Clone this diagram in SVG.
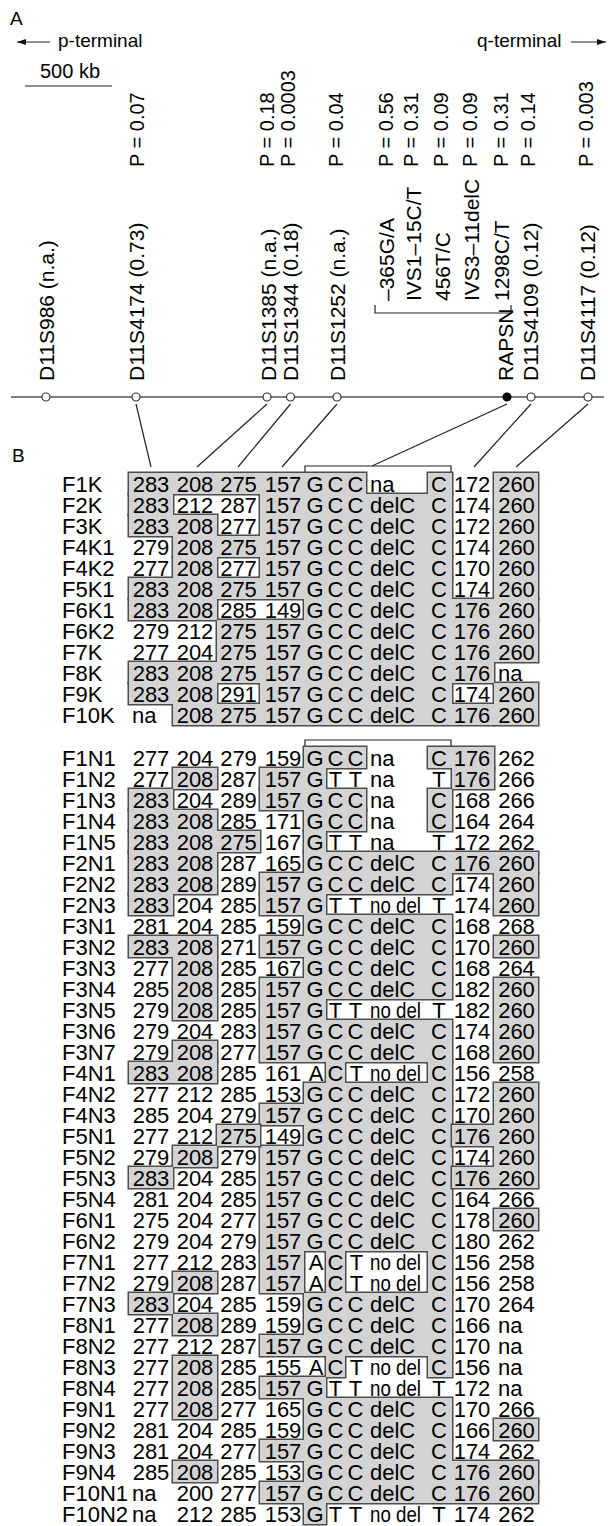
<svg xmlns="http://www.w3.org/2000/svg" xmlns:xlink="http://www.w3.org/1999/xlink" width="608" height="1526" viewBox="0 0 608 1526">
<style>
.f{font-family:"Liberation Sans",Arial,sans-serif;fill:#000}
.t{font-size:22px}
.m{text-anchor:middle}
.r{font-size:21px}
.p{font-size:20px}
.h{font-size:19px}
.ln{stroke:#222;stroke-width:1.2;fill:none}
.chr{stroke:#555;stroke-width:1.6;fill:none}
.dot{fill:#fff;stroke:#333;stroke-width:1.2}
.rs{fill:none;stroke:#4d4d4d;stroke-width:3}
.rf{fill:#d3d3d3;stroke:none}
</style>
<defs>
<marker id="ah" markerWidth="10" markerHeight="6" refX="9" refY="3" orient="auto" markerUnits="userSpaceOnUse"><path d="M0,0 L9,3 L0,6 z" fill="#111"/></marker>
<g id="shK">
<rect x="129" y="473" width="237" height="21"/><rect x="428" y="473" width="24" height="21"/><rect x="494" y="473" width="44" height="126"/>
<rect x="129" y="494" width="44" height="21"/><rect x="260" y="494" width="192" height="42"/><rect x="129" y="515" width="88" height="21"/>
<rect x="173" y="536" width="279" height="21"/><rect x="173" y="557" width="44" height="21"/><rect x="260" y="557" width="192" height="21"/>
<rect x="129" y="578" width="323" height="21"/><rect x="129" y="599" width="88" height="21"/><rect x="304" y="599" width="234" height="21"/>
<rect x="217" y="620" width="321" height="42"/><rect x="129" y="662" width="365" height="21"/><rect x="129" y="683" width="88" height="21"/>
<rect x="260" y="683" width="192" height="21"/><rect x="494" y="683" width="44" height="42"/><rect x="173" y="704" width="321" height="21"/>
</g>
<g id="shM">
<rect x="304" y="747" width="62" height="21"/><rect x="260" y="768" width="66" height="21"/><rect x="260" y="789" width="106" height="21"/>
<rect x="304" y="810" width="62" height="21"/><rect x="304" y="831" width="22" height="21"/><rect x="304" y="852" width="234" height="21"/>
<rect x="260" y="873" width="192" height="21"/><rect x="494" y="873" width="44" height="42"/><rect x="260" y="894" width="66" height="21"/>
<rect x="304" y="915" width="148" height="21"/><rect x="260" y="936" width="192" height="21"/><rect x="304" y="957" width="148" height="21"/>
<rect x="260" y="978" width="192" height="21"/><rect x="260" y="999" width="66" height="21"/><rect x="260" y="1020" width="192" height="42"/>
<rect x="326" y="1062" width="19" height="21"/><rect x="428" y="1062" width="24" height="21"/><rect x="304" y="1083" width="148" height="21"/>
<rect x="260" y="1104" width="192" height="21"/><rect x="304" y="1125" width="148" height="21"/><rect x="260" y="1146" width="192" height="105"/>
<rect x="260" y="1251" width="44" height="42"/><rect x="326" y="1251" width="19" height="42"/><rect x="428" y="1251" width="24" height="42"/>
<rect x="304" y="1293" width="148" height="42"/><rect x="260" y="1335" width="192" height="21"/><rect x="326" y="1356" width="19" height="21"/>
<rect x="428" y="1356" width="24" height="21"/><rect x="260" y="1377" width="66" height="21"/><rect x="304" y="1398" width="148" height="42"/>
<rect x="260" y="1440" width="192" height="21"/><rect x="304" y="1461" width="234" height="21"/><rect x="260" y="1482" width="278" height="21"/>
<rect x="304" y="1503" width="22" height="21"/>
</g>
<g id="shS">
<rect x="428" y="747" width="66" height="21"/><rect x="452" y="768" width="42" height="21"/>
<rect x="173" y="768" width="44" height="21"/>
<rect x="129" y="789" width="44" height="21"/><rect x="129" y="810" width="88" height="21"/><rect x="129" y="831" width="131" height="21"/><rect x="129" y="852" width="88" height="42"/><rect x="129" y="894" width="44" height="21"/>
<rect x="428" y="789" width="24" height="42"/>
<rect x="129" y="936" width="88" height="21"/><rect x="173" y="957" width="44" height="63"/>
<rect x="494" y="936" width="44" height="21"/>
<rect x="494" y="978" width="44" height="84"/>
<rect x="173" y="1041" width="44" height="21"/><rect x="129" y="1062" width="88" height="21"/>
<rect x="217" y="1125" width="43" height="21"/>
<rect x="173" y="1146" width="44" height="21"/>
<rect x="129" y="1167" width="44" height="21"/>
<rect x="494" y="1209" width="44" height="21"/>
<rect x="173" y="1272" width="44" height="21"/>
<rect x="129" y="1293" width="44" height="21"/>
<rect x="173" y="1314" width="44" height="21"/>
<rect x="173" y="1356" width="44" height="63"/>
<rect x="494" y="1419" width="44" height="21"/>
<rect x="173" y="1461" width="44" height="21"/>
</g>
<g id="shR9">
<rect x="494" y="1083" width="44" height="105"/><rect x="452" y="1125" width="42" height="21"/><rect x="452" y="1167" width="42" height="21"/>
</g>
</defs>
<rect width="608" height="1526" fill="#fff"/>

<g id="header">
<text class="f h" x="10" y="25">A</text>
<path class="ln" d="M50,42 H17" marker-end="url(#ah)"/>
<text class="f h" x="58" y="47">p-terminal</text>
<text class="f h" x="477" y="47">q-terminal</text>
<path class="ln" d="M571,42 H606" marker-end="url(#ah)"/>
<text class="f p" x="40" y="78">500 kb</text>
<path class="ln" d="M25,86 H112" stroke-width="1.5"/>
<text class="f h" x="12" y="462">B</text>
</g>

<g id="chromosome">
<path class="chr" d="M11,397 H604"/>
</g>

<g id="connectors">
<path class="ln" d="M136,404 L151,467"/>
<path class="ln" d="M267,404 L197,467"/>
<path class="ln" d="M290.5,404 L238,467"/>
<path class="ln" d="M337,404 L282,467"/>
<path class="ln" d="M507,404 L372,466"/>
<path class="ln" d="M531,404 L474,467"/>
<path class="ln" d="M588,404 L516,467"/>
<path class="ln" d="M305,473 V466 H451 V473"/>
<path class="ln" d="M305,747 V740 H451 V747"/>
</g>

<g id="m-D11S986"><circle class="dot" cx="46" cy="397" r="4"/><text class="f r" transform="translate(53.5,381) rotate(-90)">D11S986 (n.a.)</text></g>
<g id="m-D11S4174"><circle class="dot" cx="136" cy="397" r="4"/><text class="f r" transform="translate(143.5,381) rotate(-90)">D11S4174 (0.73)</text><text class="f p" transform="translate(143.7,167) rotate(-90)">P = 0.07</text></g>
<g id="m-D11S1385"><circle class="dot" cx="267" cy="397" r="4"/><text class="f r" transform="translate(275.5,381) rotate(-90)">D11S1385 (n.a.)</text><text class="f p" transform="translate(274,167) rotate(-90)">P = 0.18</text></g>
<g id="m-D11S1344"><circle class="dot" cx="290.5" cy="397" r="4"/><text class="f r" transform="translate(298,381) rotate(-90)">D11S1344 (0.18)</text><text class="f p" transform="translate(294.7,167) rotate(-90)">P = 0.0003</text></g>
<g id="m-D11S1252"><circle class="dot" cx="337" cy="397" r="4"/><text class="f r" transform="translate(344.5,381) rotate(-90)">D11S1252 (n.a.)</text><text class="f p" transform="translate(343.2,167) rotate(-90)">P = 0.04</text></g>
<g id="m-RAPSN">
<circle cx="507" cy="397" r="4.5" fill="#000"/>
<text class="f r" transform="translate(512.5,381) rotate(-90)">RAPSN</text>
<path class="ln" d="M375,305 V313 H511 V305"/>
<text class="f r" transform="translate(394,301) rotate(-90)">–365G/A</text>
<text class="f r" transform="translate(421,301) rotate(-90)">IVS1–15C/T</text>
<text class="f r" transform="translate(450,301) rotate(-90)">456T/C</text>
<text class="f r" transform="translate(478.5,301) rotate(-90)">IVS3–11delC</text>
<text class="f r" transform="translate(509,301) rotate(-90)">1298C/T</text>
<text class="f p" transform="translate(393,167) rotate(-90)">P = 0.56</text>
<text class="f p" transform="translate(418,167) rotate(-90)">P = 0.31</text>
<text class="f p" transform="translate(448,167) rotate(-90)">P = 0.09</text>
<text class="f p" transform="translate(477,167) rotate(-90)">P = 0.09</text>
<text class="f p" transform="translate(508,167) rotate(-90)">P = 0.31</text>
</g>
<g id="m-D11S4109"><circle class="dot" cx="531" cy="397" r="4"/><text class="f r" transform="translate(538,381) rotate(-90)">D11S4109 (0.12)</text><text class="f p" transform="translate(535,167) rotate(-90)">P = 0.14</text></g>
<g id="m-D11S4117"><circle class="dot" cx="588" cy="397" r="4"/><text class="f r" transform="translate(594.5,381) rotate(-90)">D11S4117 (0.12)</text><text class="f p" transform="translate(593,167) rotate(-90)">P = 0.003</text></g>

<g id="shading">
<use xlink:href="#shK" href="#shK" class="rs"/><use xlink:href="#shK" href="#shK" class="rf"/>
<use xlink:href="#shM" href="#shM" class="rs"/><use xlink:href="#shM" href="#shM" class="rf"/>
<use xlink:href="#shS" href="#shS" class="rs"/><use xlink:href="#shS" href="#shS" class="rf"/>
<use xlink:href="#shR9" href="#shR9" class="rs"/><use xlink:href="#shR9" href="#shR9" class="rf"/>
</g>

<g id="tableK">
<g id="F1K"><text class="f t" y="492"><tspan x="62">F1K</tspan><tspan x="370">na</tspan></text><text class="f t m" y="492"><tspan x="151">283</tspan><tspan x="195">208</tspan><tspan x="238.5">275</tspan><tspan x="283">157</tspan><tspan x="315">G</tspan><tspan x="335.5">C</tspan><tspan x="355.5">C</tspan><tspan x="439">C</tspan><tspan x="472">172</tspan><tspan x="516.5">260</tspan></text></g>
<g id="F2K"><text class="f t" y="513"><tspan x="62">F2K</tspan><tspan x="370">delC</tspan></text><text class="f t m" y="513"><tspan x="151">283</tspan><tspan x="195">212</tspan><tspan x="238.5">287</tspan><tspan x="283">157</tspan><tspan x="315">G</tspan><tspan x="335.5">C</tspan><tspan x="355.5">C</tspan><tspan x="439">C</tspan><tspan x="472">174</tspan><tspan x="516.5">260</tspan></text></g>
<g id="F3K"><text class="f t" y="534"><tspan x="62">F3K</tspan><tspan x="370">delC</tspan></text><text class="f t m" y="534"><tspan x="151">283</tspan><tspan x="195">208</tspan><tspan x="238.5">277</tspan><tspan x="283">157</tspan><tspan x="315">G</tspan><tspan x="335.5">C</tspan><tspan x="355.5">C</tspan><tspan x="439">C</tspan><tspan x="472">172</tspan><tspan x="516.5">260</tspan></text></g>
<g id="F4K1"><text class="f t" y="555"><tspan x="62">F4K1</tspan><tspan x="370">delC</tspan></text><text class="f t m" y="555"><tspan x="151">279</tspan><tspan x="195">208</tspan><tspan x="238.5">275</tspan><tspan x="283">157</tspan><tspan x="315">G</tspan><tspan x="335.5">C</tspan><tspan x="355.5">C</tspan><tspan x="439">C</tspan><tspan x="472">174</tspan><tspan x="516.5">260</tspan></text></g>
<g id="F4K2"><text class="f t" y="576"><tspan x="62">F4K2</tspan><tspan x="370">delC</tspan></text><text class="f t m" y="576"><tspan x="151">277</tspan><tspan x="195">208</tspan><tspan x="238.5">277</tspan><tspan x="283">157</tspan><tspan x="315">G</tspan><tspan x="335.5">C</tspan><tspan x="355.5">C</tspan><tspan x="439">C</tspan><tspan x="472">170</tspan><tspan x="516.5">260</tspan></text></g>
<g id="F5K1"><text class="f t" y="597"><tspan x="62">F5K1</tspan><tspan x="370">delC</tspan></text><text class="f t m" y="597"><tspan x="151">283</tspan><tspan x="195">208</tspan><tspan x="238.5">275</tspan><tspan x="283">157</tspan><tspan x="315">G</tspan><tspan x="335.5">C</tspan><tspan x="355.5">C</tspan><tspan x="439">C</tspan><tspan x="472">174</tspan><tspan x="516.5">260</tspan></text></g>
<g id="F6K1"><text class="f t" y="618"><tspan x="62">F6K1</tspan><tspan x="370">delC</tspan></text><text class="f t m" y="618"><tspan x="151">283</tspan><tspan x="195">208</tspan><tspan x="238.5">285</tspan><tspan x="283">149</tspan><tspan x="315">G</tspan><tspan x="335.5">C</tspan><tspan x="355.5">C</tspan><tspan x="439">C</tspan><tspan x="472">176</tspan><tspan x="516.5">260</tspan></text></g>
<g id="F6K2"><text class="f t" y="639"><tspan x="62">F6K2</tspan><tspan x="370">delC</tspan></text><text class="f t m" y="639"><tspan x="151">279</tspan><tspan x="195">212</tspan><tspan x="238.5">275</tspan><tspan x="283">157</tspan><tspan x="315">G</tspan><tspan x="335.5">C</tspan><tspan x="355.5">C</tspan><tspan x="439">C</tspan><tspan x="472">176</tspan><tspan x="516.5">260</tspan></text></g>
<g id="F7K"><text class="f t" y="660"><tspan x="62">F7K</tspan><tspan x="370">delC</tspan></text><text class="f t m" y="660"><tspan x="151">277</tspan><tspan x="195">204</tspan><tspan x="238.5">275</tspan><tspan x="283">157</tspan><tspan x="315">G</tspan><tspan x="335.5">C</tspan><tspan x="355.5">C</tspan><tspan x="439">C</tspan><tspan x="472">176</tspan><tspan x="516.5">260</tspan></text></g>
<g id="F8K"><text class="f t" y="681"><tspan x="62">F8K</tspan><tspan x="370">delC</tspan><tspan x="498">na</tspan></text><text class="f t m" y="681"><tspan x="151">283</tspan><tspan x="195">208</tspan><tspan x="238.5">275</tspan><tspan x="283">157</tspan><tspan x="315">G</tspan><tspan x="335.5">C</tspan><tspan x="355.5">C</tspan><tspan x="439">C</tspan><tspan x="472">176</tspan></text></g>
<g id="F9K"><text class="f t" y="702"><tspan x="62">F9K</tspan><tspan x="370">delC</tspan></text><text class="f t m" y="702"><tspan x="151">283</tspan><tspan x="195">208</tspan><tspan x="238.5">291</tspan><tspan x="283">157</tspan><tspan x="315">G</tspan><tspan x="335.5">C</tspan><tspan x="355.5">C</tspan><tspan x="439">C</tspan><tspan x="472">174</tspan><tspan x="516.5">260</tspan></text></g>
<g id="F10K"><text class="f t" y="723"><tspan x="62">F10K</tspan><tspan x="132">na</tspan><tspan x="370">delC</tspan></text><text class="f t m" y="723"><tspan x="195">208</tspan><tspan x="238.5">275</tspan><tspan x="283">157</tspan><tspan x="315">G</tspan><tspan x="335.5">C</tspan><tspan x="355.5">C</tspan><tspan x="439">C</tspan><tspan x="472">176</tspan><tspan x="516.5">260</tspan></text></g>
</g>

<g id="tableN">
<g id="F1N1"><text class="f t" y="766"><tspan x="62">F1N1</tspan><tspan x="370">na</tspan></text><text class="f t m" y="766"><tspan x="151">277</tspan><tspan x="195">204</tspan><tspan x="238.5">279</tspan><tspan x="283">159</tspan><tspan x="315">G</tspan><tspan x="335.5">C</tspan><tspan x="355.5">C</tspan><tspan x="439">C</tspan><tspan x="472">176</tspan><tspan x="516.5">262</tspan></text></g>
<g id="F1N2"><text class="f t" y="787"><tspan x="62">F1N2</tspan><tspan x="370">na</tspan></text><text class="f t m" y="787"><tspan x="151">277</tspan><tspan x="195">208</tspan><tspan x="238.5">287</tspan><tspan x="283">157</tspan><tspan x="315">G</tspan><tspan x="335.5">T</tspan><tspan x="355.5">T</tspan><tspan x="439">T</tspan><tspan x="472">176</tspan><tspan x="516.5">266</tspan></text></g>
<g id="F1N3"><text class="f t" y="808"><tspan x="62">F1N3</tspan><tspan x="370">na</tspan></text><text class="f t m" y="808"><tspan x="151">283</tspan><tspan x="195">204</tspan><tspan x="238.5">289</tspan><tspan x="283">157</tspan><tspan x="315">G</tspan><tspan x="335.5">C</tspan><tspan x="355.5">C</tspan><tspan x="439">C</tspan><tspan x="472">168</tspan><tspan x="516.5">266</tspan></text></g>
<g id="F1N4"><text class="f t" y="829"><tspan x="62">F1N4</tspan><tspan x="370">na</tspan></text><text class="f t m" y="829"><tspan x="151">283</tspan><tspan x="195">208</tspan><tspan x="238.5">285</tspan><tspan x="283">171</tspan><tspan x="315">G</tspan><tspan x="335.5">C</tspan><tspan x="355.5">C</tspan><tspan x="439">C</tspan><tspan x="472">164</tspan><tspan x="516.5">264</tspan></text></g>
<g id="F1N5"><text class="f t" y="850"><tspan x="62">F1N5</tspan><tspan x="370">na</tspan></text><text class="f t m" y="850"><tspan x="151">283</tspan><tspan x="195">208</tspan><tspan x="238.5">275</tspan><tspan x="283">167</tspan><tspan x="315">G</tspan><tspan x="335.5">T</tspan><tspan x="355.5">T</tspan><tspan x="439">T</tspan><tspan x="472">172</tspan><tspan x="516.5">262</tspan></text></g>
<g id="F2N1"><text class="f t" y="871"><tspan x="62">F2N1</tspan><tspan x="370">delC</tspan></text><text class="f t m" y="871"><tspan x="151">283</tspan><tspan x="195">208</tspan><tspan x="238.5">287</tspan><tspan x="283">165</tspan><tspan x="315">G</tspan><tspan x="335.5">C</tspan><tspan x="355.5">C</tspan><tspan x="439">C</tspan><tspan x="472">176</tspan><tspan x="516.5">260</tspan></text></g>
<g id="F2N2"><text class="f t" y="892"><tspan x="62">F2N2</tspan><tspan x="370">delC</tspan></text><text class="f t m" y="892"><tspan x="151">283</tspan><tspan x="195">208</tspan><tspan x="238.5">289</tspan><tspan x="283">157</tspan><tspan x="315">G</tspan><tspan x="335.5">C</tspan><tspan x="355.5">C</tspan><tspan x="439">C</tspan><tspan x="472">174</tspan><tspan x="516.5">260</tspan></text></g>
<g id="F2N3"><text class="f t" y="913"><tspan x="62">F2N3</tspan></text><text class="f t" x="370" y="913" textLength="51" lengthAdjust="spacingAndGlyphs">no del</text><text class="f t m" y="913"><tspan x="151">283</tspan><tspan x="195">204</tspan><tspan x="238.5">285</tspan><tspan x="283">157</tspan><tspan x="315">G</tspan><tspan x="335.5">T</tspan><tspan x="355.5">T</tspan><tspan x="439">T</tspan><tspan x="472">174</tspan><tspan x="516.5">260</tspan></text></g>
<g id="F3N1"><text class="f t" y="934"><tspan x="62">F3N1</tspan><tspan x="370">delC</tspan></text><text class="f t m" y="934"><tspan x="151">281</tspan><tspan x="195">204</tspan><tspan x="238.5">285</tspan><tspan x="283">159</tspan><tspan x="315">G</tspan><tspan x="335.5">C</tspan><tspan x="355.5">C</tspan><tspan x="439">C</tspan><tspan x="472">168</tspan><tspan x="516.5">268</tspan></text></g>
<g id="F3N2"><text class="f t" y="955"><tspan x="62">F3N2</tspan><tspan x="370">delC</tspan></text><text class="f t m" y="955"><tspan x="151">283</tspan><tspan x="195">208</tspan><tspan x="238.5">271</tspan><tspan x="283">157</tspan><tspan x="315">G</tspan><tspan x="335.5">C</tspan><tspan x="355.5">C</tspan><tspan x="439">C</tspan><tspan x="472">170</tspan><tspan x="516.5">260</tspan></text></g>
<g id="F3N3"><text class="f t" y="976"><tspan x="62">F3N3</tspan><tspan x="370">delC</tspan></text><text class="f t m" y="976"><tspan x="151">277</tspan><tspan x="195">208</tspan><tspan x="238.5">285</tspan><tspan x="283">167</tspan><tspan x="315">G</tspan><tspan x="335.5">C</tspan><tspan x="355.5">C</tspan><tspan x="439">C</tspan><tspan x="472">168</tspan><tspan x="516.5">264</tspan></text></g>
<g id="F3N4"><text class="f t" y="997"><tspan x="62">F3N4</tspan><tspan x="370">delC</tspan></text><text class="f t m" y="997"><tspan x="151">285</tspan><tspan x="195">208</tspan><tspan x="238.5">285</tspan><tspan x="283">157</tspan><tspan x="315">G</tspan><tspan x="335.5">C</tspan><tspan x="355.5">C</tspan><tspan x="439">C</tspan><tspan x="472">182</tspan><tspan x="516.5">260</tspan></text></g>
<g id="F3N5"><text class="f t" y="1018"><tspan x="62">F3N5</tspan></text><text class="f t" x="370" y="1018" textLength="51" lengthAdjust="spacingAndGlyphs">no del</text><text class="f t m" y="1018"><tspan x="151">279</tspan><tspan x="195">208</tspan><tspan x="238.5">285</tspan><tspan x="283">157</tspan><tspan x="315">G</tspan><tspan x="335.5">T</tspan><tspan x="355.5">T</tspan><tspan x="439">T</tspan><tspan x="472">182</tspan><tspan x="516.5">260</tspan></text></g>
<g id="F3N6"><text class="f t" y="1039"><tspan x="62">F3N6</tspan><tspan x="370">delC</tspan></text><text class="f t m" y="1039"><tspan x="151">279</tspan><tspan x="195">204</tspan><tspan x="238.5">283</tspan><tspan x="283">157</tspan><tspan x="315">G</tspan><tspan x="335.5">C</tspan><tspan x="355.5">C</tspan><tspan x="439">C</tspan><tspan x="472">174</tspan><tspan x="516.5">260</tspan></text></g>
<g id="F3N7"><text class="f t" y="1060"><tspan x="62">F3N7</tspan><tspan x="370">delC</tspan></text><text class="f t m" y="1060"><tspan x="151">279</tspan><tspan x="195">208</tspan><tspan x="238.5">277</tspan><tspan x="283">157</tspan><tspan x="315">G</tspan><tspan x="335.5">C</tspan><tspan x="355.5">C</tspan><tspan x="439">C</tspan><tspan x="472">168</tspan><tspan x="516.5">260</tspan></text></g>
<g id="F4N1"><text class="f t" y="1081"><tspan x="62">F4N1</tspan></text><text class="f t" x="370" y="1081" textLength="51" lengthAdjust="spacingAndGlyphs">no del</text><text class="f t m" y="1081"><tspan x="151">283</tspan><tspan x="195">208</tspan><tspan x="238.5">285</tspan><tspan x="283">161</tspan><tspan x="316">A</tspan><tspan x="335.5">C</tspan><tspan x="356.5">T</tspan><tspan x="439">C</tspan><tspan x="472">156</tspan><tspan x="516.5">258</tspan></text></g>
<g id="F4N2"><text class="f t" y="1102"><tspan x="62">F4N2</tspan><tspan x="370">delC</tspan></text><text class="f t m" y="1102"><tspan x="151">277</tspan><tspan x="195">212</tspan><tspan x="238.5">285</tspan><tspan x="283">153</tspan><tspan x="315">G</tspan><tspan x="335.5">C</tspan><tspan x="355.5">C</tspan><tspan x="439">C</tspan><tspan x="472">172</tspan><tspan x="516.5">260</tspan></text></g>
<g id="F4N3"><text class="f t" y="1123"><tspan x="62">F4N3</tspan><tspan x="370">delC</tspan></text><text class="f t m" y="1123"><tspan x="151">285</tspan><tspan x="195">204</tspan><tspan x="238.5">279</tspan><tspan x="283">157</tspan><tspan x="315">G</tspan><tspan x="335.5">C</tspan><tspan x="355.5">C</tspan><tspan x="439">C</tspan><tspan x="472">170</tspan><tspan x="516.5">260</tspan></text></g>
<g id="F5N1"><text class="f t" y="1144"><tspan x="62">F5N1</tspan><tspan x="370">delC</tspan></text><text class="f t m" y="1144"><tspan x="151">277</tspan><tspan x="195">212</tspan><tspan x="238.5">275</tspan><tspan x="283">149</tspan><tspan x="315">G</tspan><tspan x="335.5">C</tspan><tspan x="355.5">C</tspan><tspan x="439">C</tspan><tspan x="472">176</tspan><tspan x="516.5">260</tspan></text></g>
<g id="F5N2"><text class="f t" y="1165"><tspan x="62">F5N2</tspan><tspan x="370">delC</tspan></text><text class="f t m" y="1165"><tspan x="151">279</tspan><tspan x="195">208</tspan><tspan x="238.5">279</tspan><tspan x="283">157</tspan><tspan x="315">G</tspan><tspan x="335.5">C</tspan><tspan x="355.5">C</tspan><tspan x="439">C</tspan><tspan x="472">174</tspan><tspan x="516.5">260</tspan></text></g>
<g id="F5N3"><text class="f t" y="1186"><tspan x="62">F5N3</tspan><tspan x="370">delC</tspan></text><text class="f t m" y="1186"><tspan x="151">283</tspan><tspan x="195">204</tspan><tspan x="238.5">285</tspan><tspan x="283">157</tspan><tspan x="315">G</tspan><tspan x="335.5">C</tspan><tspan x="355.5">C</tspan><tspan x="439">C</tspan><tspan x="472">176</tspan><tspan x="516.5">260</tspan></text></g>
<g id="F5N4"><text class="f t" y="1207"><tspan x="62">F5N4</tspan><tspan x="370">delC</tspan></text><text class="f t m" y="1207"><tspan x="151">281</tspan><tspan x="195">204</tspan><tspan x="238.5">285</tspan><tspan x="283">157</tspan><tspan x="315">G</tspan><tspan x="335.5">C</tspan><tspan x="355.5">C</tspan><tspan x="439">C</tspan><tspan x="472">164</tspan><tspan x="516.5">266</tspan></text></g>
<g id="F6N1"><text class="f t" y="1228"><tspan x="62">F6N1</tspan><tspan x="370">delC</tspan></text><text class="f t m" y="1228"><tspan x="151">275</tspan><tspan x="195">204</tspan><tspan x="238.5">277</tspan><tspan x="283">157</tspan><tspan x="315">G</tspan><tspan x="335.5">C</tspan><tspan x="355.5">C</tspan><tspan x="439">C</tspan><tspan x="472">178</tspan><tspan x="516.5">260</tspan></text></g>
<g id="F6N2"><text class="f t" y="1249"><tspan x="62">F6N2</tspan><tspan x="370">delC</tspan></text><text class="f t m" y="1249"><tspan x="151">279</tspan><tspan x="195">204</tspan><tspan x="238.5">279</tspan><tspan x="283">157</tspan><tspan x="315">G</tspan><tspan x="335.5">C</tspan><tspan x="355.5">C</tspan><tspan x="439">C</tspan><tspan x="472">180</tspan><tspan x="516.5">262</tspan></text></g>
<g id="F7N1"><text class="f t" y="1270"><tspan x="62">F7N1</tspan></text><text class="f t" x="370" y="1270" textLength="51" lengthAdjust="spacingAndGlyphs">no del</text><text class="f t m" y="1270"><tspan x="151">277</tspan><tspan x="195">212</tspan><tspan x="238.5">283</tspan><tspan x="283">157</tspan><tspan x="316">A</tspan><tspan x="335.5">C</tspan><tspan x="356.5">T</tspan><tspan x="439">C</tspan><tspan x="472">156</tspan><tspan x="516.5">258</tspan></text></g>
<g id="F7N2"><text class="f t" y="1291"><tspan x="62">F7N2</tspan></text><text class="f t" x="370" y="1291" textLength="51" lengthAdjust="spacingAndGlyphs">no del</text><text class="f t m" y="1291"><tspan x="151">279</tspan><tspan x="195">208</tspan><tspan x="238.5">287</tspan><tspan x="283">157</tspan><tspan x="316">A</tspan><tspan x="335.5">C</tspan><tspan x="356.5">T</tspan><tspan x="439">C</tspan><tspan x="472">156</tspan><tspan x="516.5">258</tspan></text></g>
<g id="F7N3"><text class="f t" y="1312"><tspan x="62">F7N3</tspan><tspan x="370">delC</tspan></text><text class="f t m" y="1312"><tspan x="151">283</tspan><tspan x="195">204</tspan><tspan x="238.5">285</tspan><tspan x="283">159</tspan><tspan x="315">G</tspan><tspan x="335.5">C</tspan><tspan x="355.5">C</tspan><tspan x="439">C</tspan><tspan x="472">170</tspan><tspan x="516.5">264</tspan></text></g>
<g id="F8N1"><text class="f t" y="1333"><tspan x="62">F8N1</tspan><tspan x="370">delC</tspan><tspan x="498">na</tspan></text><text class="f t m" y="1333"><tspan x="151">277</tspan><tspan x="195">208</tspan><tspan x="238.5">289</tspan><tspan x="283">159</tspan><tspan x="315">G</tspan><tspan x="335.5">C</tspan><tspan x="355.5">C</tspan><tspan x="439">C</tspan><tspan x="472">166</tspan></text></g>
<g id="F8N2"><text class="f t" y="1354"><tspan x="62">F8N2</tspan><tspan x="370">delC</tspan><tspan x="498">na</tspan></text><text class="f t m" y="1354"><tspan x="151">277</tspan><tspan x="195">212</tspan><tspan x="238.5">287</tspan><tspan x="283">157</tspan><tspan x="315">G</tspan><tspan x="335.5">C</tspan><tspan x="355.5">C</tspan><tspan x="439">C</tspan><tspan x="472">170</tspan></text></g>
<g id="F8N3"><text class="f t" y="1375"><tspan x="62">F8N3</tspan><tspan x="498">na</tspan></text><text class="f t" x="370" y="1375" textLength="51" lengthAdjust="spacingAndGlyphs">no del</text><text class="f t m" y="1375"><tspan x="151">277</tspan><tspan x="195">208</tspan><tspan x="238.5">285</tspan><tspan x="283">155</tspan><tspan x="316">A</tspan><tspan x="335.5">C</tspan><tspan x="356.5">T</tspan><tspan x="439">C</tspan><tspan x="472">156</tspan></text></g>
<g id="F8N4"><text class="f t" y="1396"><tspan x="62">F8N4</tspan><tspan x="498">na</tspan></text><text class="f t" x="370" y="1396" textLength="51" lengthAdjust="spacingAndGlyphs">no del</text><text class="f t m" y="1396"><tspan x="151">277</tspan><tspan x="195">208</tspan><tspan x="238.5">285</tspan><tspan x="283">157</tspan><tspan x="315">G</tspan><tspan x="335.5">T</tspan><tspan x="355.5">T</tspan><tspan x="439">T</tspan><tspan x="472">172</tspan></text></g>
<g id="F9N1"><text class="f t" y="1417"><tspan x="62">F9N1</tspan><tspan x="370">delC</tspan></text><text class="f t m" y="1417"><tspan x="151">277</tspan><tspan x="195">208</tspan><tspan x="238.5">277</tspan><tspan x="283">165</tspan><tspan x="315">G</tspan><tspan x="335.5">C</tspan><tspan x="355.5">C</tspan><tspan x="439">C</tspan><tspan x="472">170</tspan><tspan x="516.5">266</tspan></text></g>
<g id="F9N2"><text class="f t" y="1438"><tspan x="62">F9N2</tspan><tspan x="370">delC</tspan></text><text class="f t m" y="1438"><tspan x="151">281</tspan><tspan x="195">204</tspan><tspan x="238.5">285</tspan><tspan x="283">159</tspan><tspan x="315">G</tspan><tspan x="335.5">C</tspan><tspan x="355.5">C</tspan><tspan x="439">C</tspan><tspan x="472">166</tspan><tspan x="516.5">260</tspan></text></g>
<g id="F9N3"><text class="f t" y="1459"><tspan x="62">F9N3</tspan><tspan x="370">delC</tspan></text><text class="f t m" y="1459"><tspan x="151">281</tspan><tspan x="195">204</tspan><tspan x="238.5">277</tspan><tspan x="283">157</tspan><tspan x="315">G</tspan><tspan x="335.5">C</tspan><tspan x="355.5">C</tspan><tspan x="439">C</tspan><tspan x="472">174</tspan><tspan x="516.5">262</tspan></text></g>
<g id="F9N4"><text class="f t" y="1480"><tspan x="62">F9N4</tspan><tspan x="370">delC</tspan></text><text class="f t m" y="1480"><tspan x="151">285</tspan><tspan x="195">208</tspan><tspan x="238.5">285</tspan><tspan x="283">153</tspan><tspan x="315">G</tspan><tspan x="335.5">C</tspan><tspan x="355.5">C</tspan><tspan x="439">C</tspan><tspan x="472">176</tspan><tspan x="516.5">260</tspan></text></g>
<g id="F10N1"><text class="f t" y="1501"><tspan x="62">F10N1</tspan><tspan x="132">na</tspan><tspan x="370">delC</tspan></text><text class="f t m" y="1501"><tspan x="195">200</tspan><tspan x="238.5">277</tspan><tspan x="283">157</tspan><tspan x="315">G</tspan><tspan x="335.5">C</tspan><tspan x="355.5">C</tspan><tspan x="439">C</tspan><tspan x="472">176</tspan><tspan x="516.5">260</tspan></text></g>
<g id="F10N2"><text class="f t" y="1522"><tspan x="62">F10N2</tspan><tspan x="132">na</tspan></text><text class="f t" x="370" y="1522" textLength="51" lengthAdjust="spacingAndGlyphs">no del</text><text class="f t m" y="1522"><tspan x="195">212</tspan><tspan x="238.5">285</tspan><tspan x="283">153</tspan><tspan x="315">G</tspan><tspan x="335.5">T</tspan><tspan x="355.5">T</tspan><tspan x="439">T</tspan><tspan x="472">174</tspan><tspan x="516.5">262</tspan></text></g>
</g>
</svg>
